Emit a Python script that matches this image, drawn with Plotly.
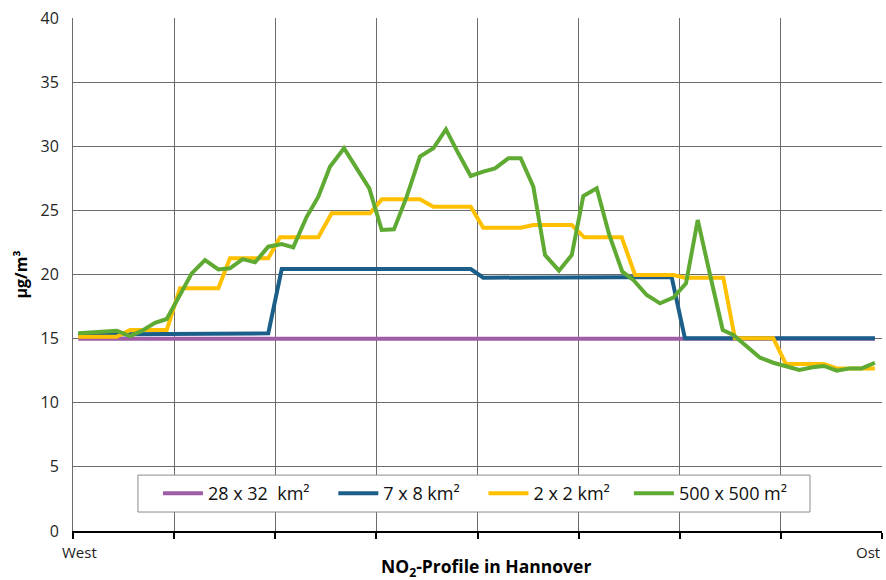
import plotly.graph_objects as go

# x positions in profile units (0 = West, 80 = Ost)
x_purple = [0.52, 79.3]
y_purple = [15.0, 15.0]

x_blue = [0.52, 19.31, 20.64, 39.33, 40.57, 59.2, 60.51, 79.3]
y_blue = [15.33, 15.41, 20.43, 20.43, 19.75, 19.8, 15.02, 15.02]

x_orange = [0.52, 4.32, 5.64, 9.27, 10.58, 14.37, 15.52, 19.31, 20.47, 24.26,
            25.58, 29.37, 30.53, 34.31, 35.63, 39.33, 40.57, 44.27, 45.52, 49.32,
            50.56, 54.26, 55.58, 59.36, 60.51, 64.31, 65.46, 69.25, 70.5, 74.26,
            75.52, 79.3]
y_orange = [15.15, 15.15, 15.67, 15.67, 18.92, 18.92, 21.26, 21.26, 22.9, 22.9,
            24.77, 24.77, 25.86, 25.86, 25.29, 25.29, 23.65, 23.65, 23.86, 23.86,
            22.9, 22.9, 19.96, 19.96, 19.75, 19.75, 15.02, 15.02, 13.02, 13.02,
            12.68, 12.68]

x_green = [0.52, 4.32, 5.64, 6.79, 8.11, 9.27, 10.75, 11.74, 13.05, 14.37,
           15.52, 16.78, 18.0, 19.31, 20.64, 21.78, 23.11, 24.26, 25.41, 26.8,
           28.05, 29.3, 30.53, 31.74, 33.0, 34.31, 35.63, 36.88, 38.1, 39.33,
           40.57, 41.73, 43.05, 44.27, 45.52, 46.68, 48.06, 49.32, 50.46, 51.79,
           53.03, 54.32, 55.41, 56.73, 58.05, 59.36, 60.62, 61.78, 63.0, 64.25,
           65.3, 66.62, 67.94, 69.25, 70.5, 71.82, 73.14, 74.26, 75.52, 76.83,
           77.99, 79.3]
y_green = [15.41, 15.62, 15.2, 15.6, 16.24, 16.53, 18.66, 20.09, 21.13, 20.4,
           20.48, 21.2, 20.95, 22.17, 22.38, 22.12, 24.5, 26.07, 28.4, 29.84,
           28.28, 26.72, 23.47, 23.52, 26.07, 29.2, 29.84, 31.32, 29.45, 27.68,
           28.02, 28.28, 29.06, 29.06, 26.85, 21.52, 20.3, 21.52, 26.12, 26.72,
           23.08, 20.22, 19.57, 18.4, 17.75, 18.19, 19.31, 24.25, 19.96, 15.67,
           15.28, 14.37, 13.51, 13.12, 12.81, 12.55, 12.76, 12.87, 12.5, 12.68,
           12.68, 13.12]

names = ["28 x 32  km²", "7 x 8 km²", "2 x 2 km²", "500 x 500 m²"]
name_pad = [4, 4, 3, 0]  # non-breaking spaces after each legend label (spacing)
colors = ["#9E5DA6", "#1B5E8A", "#FFC000", "#5FAA32"]

FONT = "Open Sans, sans-serif"

fig = go.Figure()
series = [(x_purple, y_purple), (x_blue, y_blue), (x_orange, y_orange), (x_green, y_green)]
for i, (xs, ys) in enumerate(series):
    fig.add_trace(go.Scatter(x=xs, y=ys, mode="lines",
                             name=names[i] + "\u00a0" * name_pad[i],
                             line=dict(color=colors[i], width=4),
                             hoverinfo="skip"))

# legend frame (white box with grey border, covering the grid behind)
fig.add_shape(type="rect", xref="paper", yref="paper",
              x0=0.0803, x1=0.911, y0=0.037, y1=0.109, layer="above",
              fillcolor="white", line=dict(color="#8c8c8c", width=1))

fig.update_layout(
    width=886, height=580,
    margin=dict(l=73, r=4, t=18, b=49),
    paper_bgcolor="white", plot_bgcolor="white",
    font=dict(family=FONT, size=16, color="#262626"),
    showlegend=True,
    legend=dict(orientation="h", x=0.105, y=0.109, xanchor="left", yanchor="top",
                bgcolor="rgba(0,0,0,0)", borderwidth=0,
                font=dict(family=FONT, size=18, color="#111111"),
                itemwidth=40, tracegroupgap=0),
    xaxis=dict(range=[0, 80], tickvals=[0, 10, 20, 30, 40, 50, 60, 70, 80],
               showticklabels=False, ticks="outside", ticklen=6, tickcolor="black",
               tickwidth=2, showgrid=True, gridcolor="#6b6b6b", gridwidth=1,
               showline=True, linecolor="black", linewidth=2, zeroline=False,
               automargin=False, fixedrange=True),
    yaxis=dict(range=[0, 40], tickvals=[0, 5, 10, 15, 20, 25, 30, 35, 40],
               ticks="outside", ticklen=10, tickcolor="rgba(0,0,0,0)",
               tickfont=dict(family=FONT, size=16, color="#262626"),
               showgrid=True, gridcolor="#6b6b6b", gridwidth=1,
               showline=True, linecolor="#6b6b6b", linewidth=1, zeroline=False,
               title=dict(text="<b>µg/m³</b>", font=dict(family=FONT, size=16, color="#000000"),
                          standoff=8),
               automargin=False, fixedrange=True),
    annotations=[
        dict(text="West", xref="paper", yref="paper", x=0.008, y=-0.041,
             xanchor="center", yanchor="middle", showarrow=False,
             font=dict(family=FONT, size=15, color="#222222")),
        dict(text="Ost", xref="paper", yref="paper", x=1.0, y=-0.041,
             xanchor="right", yanchor="middle", showarrow=False,
             font=dict(family=FONT, size=15, color="#222222")),
        dict(text="<b>NO<sub>2</sub>-Profile in Hannover</b>", xref="paper", yref="paper",
             x=0.51, y=-0.072, xanchor="center", yanchor="middle", showarrow=False,
             font=dict(family=FONT, size=17.5, color="#000000")),
    ],
)

fig.write_html("out.html", config={"displayModeBar": False},
               post_script="document.body.style.margin='0';document.body.style.padding='0';")
